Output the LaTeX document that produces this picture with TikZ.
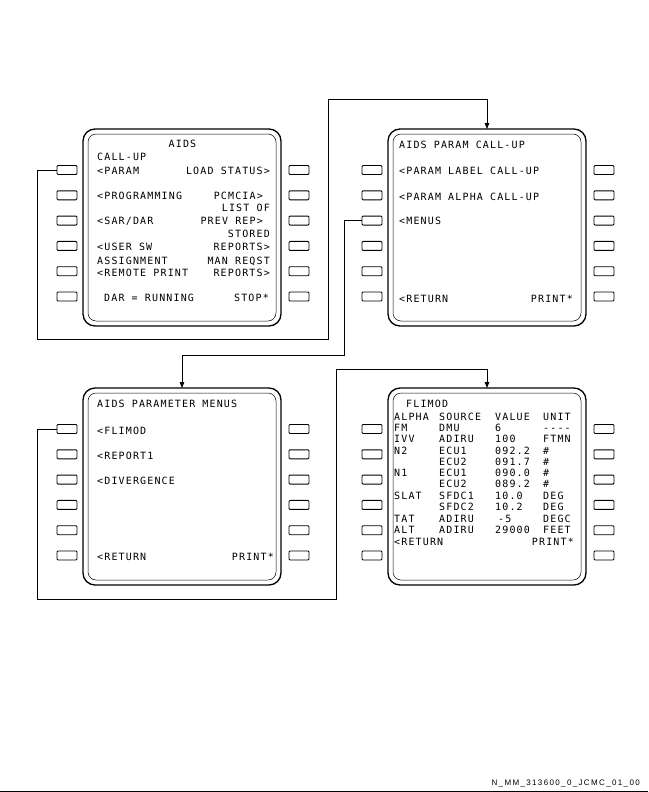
\documentclass[tikz,border=0pt]{standalone}
\usepackage{fontspec}
\newfontfamily\scrfont[LetterSpace=11.5]{DejaVu Sans Mono}
\newfontfamily\tagfont[LetterSpace=17]{Liberation Sans}
\usetikzlibrary{arrows.meta}

\tikzset{
 screen/.style={draw, line width=1.3pt, rounded corners=12pt, minimum width=198pt, minimum height=197pt, inner sep=0pt, outer sep=0pt},
 innerframe/.style={draw, line width=0.5pt, rounded corners=8pt},
 key/.style={draw, line width=0.9pt, rounded corners=1pt, minimum width=20pt, minimum height=9pt, inner sep=0pt},
 lt/.style={font=\scrfont\fontsize{10}{11}\selectfont, anchor=base west, inner sep=0pt},
 rt/.style={lt, anchor=base east},
 ct/.style={lt, anchor=base},
 conn/.style={line width=0.8pt},
 arr/.style={conn, -{Triangle[length=6pt,width=4.5pt]}},
}

\newcommand\mkscreen[3]{%
 \node[screen] (#1) at (#2, #3+98.5) {};
 \draw[innerframe] ([shift={(5,5)}]#1.north west) rectangle ([shift={(-5,-5)}]#1.south east);
 \foreach \i in {1,...,6} {
   \node[key] (#1L\i) at (#2-115, #3+41+\i*25.3-25.3) {};
   \node[key] (#1R\i) at (#2+117, #3+41+\i*25.3-25.3) {};
 }
}

\begin{document}
\begin{tikzpicture}[x=1pt,y=-1pt]
\fill[white] (0,0) rectangle (648,792);
\useasboundingbox (0,0) rectangle (648,792);

\mkscreen{s1}{182}{129}
\mkscreen{s2}{487}{129}
\mkscreen{s3}{182}{388}
\mkscreen{s4}{487}{388}

% screen 1
\node[ct] (a1) at (182.5,147.7) {AIDS};
\node[lt] (a2) at (97,160.7) {CALL-UP};
\node[lt] (a3) at (97,174.7) {<PARAM};
\node[rt] (a4) at (270,174.7) {LOAD STATUS>};
\node[lt] (a5) at (97,199.7) {<PROGRAMMING};
\node[rt] (a6) at (263,199.7) {PCMCIA>};
\node[rt] (a7) at (270,211.7) {LIST OF};
\node[lt] (a8) at (97,224.7) {<SAR/DAR};
\node[rt] (a9) at (263,224.7) {PREV REP>};
\node[rt] (a10) at (270,237.7) {STORED};
\node[lt] (a11) at (97,250.7) {<USER SW};
\node[rt] (a12) at (270,250.7) {REPORTS>};
\node[lt] (a13) at (97,264.7) {ASSIGNMENT};
\node[rt] (a14) at (270,264.7) {MAN REQST};
\node[lt] (a15) at (97,276.7) {<REMOTE PRINT};
\node[rt] (a16) at (270,276.7) {REPORTS>};
\node[lt] (a17) at (104,301.7) {DAR = RUNNING};
\node[rt] (a18) at (269,301.7) {STOP*};

% screen 2
\node[lt] (b1) at (399,148.7) {AIDS PARAM CALL-UP};
\node[lt] (b2) at (399,174.7) {<PARAM LABEL CALL-UP};
\node[lt] (b3) at (399,200.7) {<PARAM ALPHA CALL-UP};
\node[lt] (b4) at (399,224.7) {<MENUS};
\node[lt] (b5) at (399,302.7) {<RETURN};
\node[rt] (b6) at (573,302.7) {PRINT*};

% screen 3
\node[lt] (c1) at (97,407.7) {AIDS PARAMETER MENUS};
\node[lt] (c2) at (97,434.7) {<FLIMOD};
\node[lt] (c3) at (97,459.7) {<REPORT1};
\node[lt] (c4) at (97,484.7) {<DIVERGENCE};
\node[lt] (c5) at (97,560.7) {<RETURN};
\node[rt] (c6) at (274,560.7) {PRINT*};

% screen 4
\node[lt] (d0) at (406,407.7) {FLIMOD};
\foreach \y/\ca/\cb/\cc/\cd [count=\k] in {
  417/ALPHA/SOURCE/VALUE/UNIT,
  428/FM/DMU/6/----,
  439/IVV/ADIRU/100/FTMN,
  451/N2/ECU1/092.2/\#,
  462//ECU2/091.7/\#,
  473/N1/ECU1/090.0/\#,
  484//ECU2/089.2/\#,
  496/SLAT/SFDC1/10.0/DEG,
  507//SFDC2/10.2/DEG,
  530/ALT/ADIRU/29000/FEET} {
  \node[lt] (d\k a) at (394,\y+3.7) {\ca};
  \node[lt] (d\k b) at (439,\y+3.7) {\cb};
  \node[lt] (d\k c) at (495,\y+3.7) {\cc};
  \node[lt] (d\k d) at (543,\y+3.7) {\cd};
}
\node[lt] (e1) at (394,522.7) {TAT};
\node[lt] (e2) at (439,522.7) {ADIRU};
\node[lt] (e3) at (498,522.7) {-5};
\node[lt] (e4) at (543,522.7) {DEGC};
\node[lt] (e5) at (394,545.7) {<RETURN};
\node[rt] (e6) at (574,545.7) {PRINT*};

% connectors
\draw[arr] (s1L1.west) -| (37,339) -| (328,99) -| (s2.north);
\draw[arr] (s2L3.west) -| (344,355) -| (s3.north);
\draw[arr] (s3L1.west) -| (37,599) -| (336,369) -| (s4.north);

% footer
\node[anchor=base east, inner sep=0pt, font=\tagfont\fontsize{8}{9}\selectfont] (tag) at (640,785) {N\_MM\_313600\_0\_JCMC\_01\_00};
\coordinate (fl) at (0,791);
\coordinate (fr) at (648,791);
\draw[line width=1pt] (fl) -- (fr);
\end{tikzpicture}
\end{document}
